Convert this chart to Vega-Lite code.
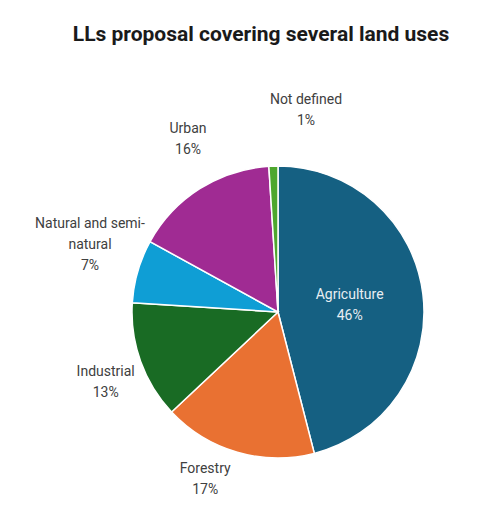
{
  "$schema": "https://vega.github.io/schema/vega-lite/v6.json",
  "autosize": {"type": "none"},
  "width": 412,
  "height": 414,
  "padding": {"left": 72, "top": 105, "right": 0, "bottom": 0},
  "background": "white",
  "title": {
    "text": "LLs proposal covering several land uses",
    "font": "Roboto",
    "fontSize": 21,
    "fontWeight": "bold",
    "color": "#1a1a1a",
    "anchor": "middle",
    "dx": -17,
    "offset": 48
  },
  "data": {
    "values": [
      {"idx": 1, "category": "Agriculture", "share": 46},
      {"idx": 2, "category": "Forestry", "share": 17},
      {"idx": 3, "category": "Industrial", "share": 13},
      {"idx": 4, "category": "Natural and semi-natural", "share": 7},
      {"idx": 5, "category": "Urban", "share": 16},
      {"idx": 6, "category": "Not defined", "share": 1}
    ]
  },
  "encoding": {
    "theta": {"field": "share", "type": "quantitative", "stack": true},
    "order": {"field": "idx", "type": "quantitative"}
  },
  "layer": [
    {
      "mark": {"type": "arc", "radius": 146, "stroke": "white", "strokeWidth": 1.5},
      "encoding": {
        "color": {
          "field": "category",
          "type": "nominal",
          "scale": {
            "domain": ["Agriculture", "Forestry", "Industrial", "Natural and semi-natural", "Urban", "Not defined"],
            "range": ["#156082", "#E97132", "#196B24", "#0F9ED5", "#A02B93", "#4EA72E"]
          },
          "legend": null
        }
      }
    },
    {
      "transform": [
        {"calculate": "replace(datum.category, 'semi-', 'semi-\\n') + '\\n' + datum.share + '%'", "as": "label"}
      ],
      "mark": {
        "type": "text",
        "font": "Roboto",
        "fontSize": 14,
        "lineBreak": "\n",
        "lineHeight": 21,
        "align": "center",
        "baseline": "middle",
        "dy": -10,
        "radius": {"expr": "datum.category == 'Agriculture' ? 72 : datum.category == 'Forestry' ? 182 : datum.category == 'Industrial' ? 186 : datum.category == 'Urban' ? 195 : datum.category == 'Not defined' ? 204 : 203.5"},
        "thetaOffset": {"expr": "datum.category == 'Agriculture' ? 0.028 : datum.category == 'Forestry' ? 0.129 : datum.category == 'Industrial' ? -0.040 : datum.category == 'Urban' ? 0.086 : datum.category == 'Not defined' ? 0.169 : 0.110"}
      },
      "encoding": {
        "text": {"field": "label", "type": "nominal"},
        "color": {
          "condition": {"test": "datum.category == 'Agriculture'", "value": "#e8eef2"},
          "value": "#404040"
        }
      }
    }
  ]
}
